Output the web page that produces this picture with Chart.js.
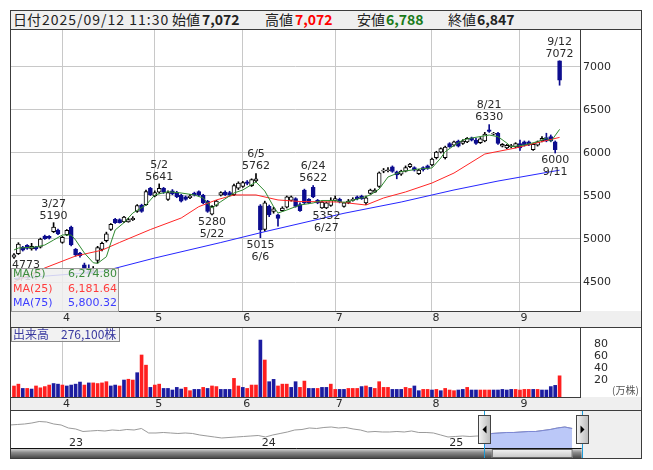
<!DOCTYPE html>
<html>
<head>
<meta charset="utf-8">
<script src="https://cdn.jsdelivr.net/npm/chart.js@4.4.1/dist/chart.umd.min.js"></script>
<style>
  body { margin:0; width:653px; height:470px; background:#fff; position:relative; overflow:hidden; }
  #frame { position:absolute; left:10px; top:10px; width:630px; height:447px; border:1px solid #3c3c3c; }
  #head { position:absolute; left:11px; top:11px; width:630px; height:18px; background:#efefef; border-bottom:1px solid #3c3c3c;
          font-family:"Noto Sans CJK JP",sans-serif; font-size:14px; color:#222; }
  #head span { position:absolute; top:-1px; line-height:19px; white-space:nowrap; }
  canvas { position:absolute; left:11px; }
</style>
</head>
<body>
<div id="frame"></div>
<div id="head"></div>
<canvas id="price" width="630" height="298" style="top:30px"></canvas>
<canvas id="vol" width="630" height="83" style="top:328px"></canvas>
<canvas id="nav" width="630" height="47" style="top:411px"></canvas>
<script>
// daily candles, 3/14 .. 9/12
const opens = [4790,4830,4905,4925,4885,4905,4905,5035,5030,5085, 5105,4960,5050,5140,4880,4835,4700,4620,4600,4750,
  4880,4980,5110,5230,5225,5200,5200,5225,5320,5395, 5400,5590,5500,5545,5590,5460,5560,5540,5510,5490,
  5480,5535,5550,5510,5440,5290,5390,5510,5545,5540, 5515,5590,5610,5665,5620,5675,5385,5110,5380,5320,
  5280,5330,5370,5450,5470,5400,5570,5460,5600,5450, 5360,5360,5390,5450,5460,5380,5420,5450,5490,5500,
  5420,5530,5545,5610,5790,5795,5840,5780,5755,5790, 5840,5830,5760,5830,5850,5860,5945,6010,5945,6110,
  6090,6140,6110,6130,6175,6150,6120,6140,6270,6220, 6230,6080,6060,6075,6070,6110,6130,6130,6040,6090,
  6140,6180,6190,6130,7072];
const highs = [4830,4957,4915,4935,4950,4915,5010,5045,5040,5190, 5115,5030,5110,5150,4890,4845,4720,4700,4680,4915,
  4965,5080,5180,5240,5235,5265,5240,5260,5400,5405, 5570,5600,5560,5641,5600,5560,5575,5555,5520,5500,
  5520,5545,5560,5520,5450,5390,5450,5550,5560,5555, 5640,5665,5670,5680,5700,5762,5400,5440,5395,5370,
  5290,5375,5500,5500,5480,5420,5580,5470,5622,5460, 5440,5430,5480,5500,5475,5430,5460,5480,5500,5510,
  5500,5580,5585,5780,5820,5830,5850,5790,5800,5850, 5880,5840,5810,5840,5860,5940,6020,6060,6080,6120,
  6140,6150,6155,6180,6185,6170,6180,6240,6330,6240, 6240,6110,6100,6100,6120,6150,6140,6140,6110,6140,
  6190,6230,6210,6140,7072];
const lows = [4773,4820,4860,4880,4870,4870,4895,4995,5000,5075, 5050,4950,5040,4920,4800,4790,4620,4560,4580,4720,
  4860,4965,5100,5180,5185,5190,5195,5215,5310,5310, 5390,5505,5490,5530,5530,5450,5515,5480,5430,5450,
  5470,5500,5500,5410,5310,5280,5380,5500,5505,5500, 5505,5575,5600,5630,5610,5665,5015,5090,5260,5300,
  5150,5320,5360,5440,5370,5320,5410,5410,5480,5410, 5355,5352,5380,5440,5420,5370,5410,5440,5455,5460,
  5400,5520,5540,5600,5770,5780,5775,5700,5740,5780, 5830,5790,5750,5790,5810,5850,5930,6000,5930,6065,
  6080,6070,6100,6120,6140,6100,6110,6130,6240,6210, 6100,6070,6050,6060,6060,6030,6080,6085,6030,6080,
  6130,6130,6130,6000,6788];
const closes = [4815,4940,4870,4890,4915,4885,5000,5005,5010,5140, 5060,5020,5100,4930,4815,4805,4650,4600,4630,4900,
  4950,5060,5170,5190,5190,5255,5225,5240,5390,5320, 5550,5515,5540,5590,5545,5540,5525,5490,5440,5460,
  5500,5510,5510,5420,5320,5380,5440,5540,5515,5510, 5620,5650,5655,5645,5690,5700,5105,5420,5280,5350,
  5240,5360,5490,5490,5380,5330,5420,5420,5490,5420, 5430,5420,5450,5470,5430,5420,5440,5460,5465,5470,
  5480,5570,5570,5770,5800,5805,5785,5745,5790,5830, 5870,5800,5800,5805,5820,5930,6010,6050,6070,6075,
  6130,6080,6140,6170,6150,6110,6165,6220,6250,6230, 6110,6100,6090,6085,6110,6060,6090,6095,6100,6130,
  6170,6140,6140,6040,6847];
// volume in 万株, r = red bar, b = blue bar
const volumes = [10.9,14,7,7,6,11,8,10,12.5,15, 14,12.5,11,12.5,14,17.4,12.5,16,16,15,
  16,18,11,12.5,11,20.7,22,20.7,32.7,61.6, 45,8.7,12.5,14,7,7,4.4,8.7,6,8.7,
  3.3,5.4,5.4,8.7,7,11,10,5.4,5.4,5.4, 23.4,11,8.7,7,12.5,12.5,86,53.4,18,21.8,
  11,14,14,8.7,18,8.7,19,7,7,7, 8.7,8.7,14,5.4,5.4,5.4,7,7,7,10,
  11,8.7,7,18,8.7,8.7,5.4,5.4,5.4,8.7, 7,11,3.3,5.4,5.4,4.4,5.4,3.3,7,4.4,
  3.3,4.4,5.4,8.7,4.4,4.4,4.4,4.4,4.4,4.4, 4.4,5.4,4.4,5.4,5.4,4.4,5.4,5.4,5.4,5.4,
  4.4,4.4,10,12,27.61];
const volDir = 'rrbrbrrrrb' + 'brbbbbrbrr' + 'rrbbrbrrbr' + 'rbrrbbbbbr' + 'rbbrbrrbbb' + 'rrbrrrbrbb' +
  'rrrbbrrbbr' + 'bbrrbbrrrb' + 'rbrrrrbbbr' + 'rbbrrbrbrr' + 'rbbrbbrrrb' + 'bbbbrrrrbr' + 'bbbbr';

// moving averages: [day index, value]
const ma5 = [[0,4872],[1,4895],[5,4907],[7,4930],[9,4988],[11,5047],[13,5047],[14,4988],[16,4837],[18,4724],
  [19,4717],[21,4794],[22,4953],[23,5105],[25,5190],[27,5302],[30,5395],[32,5512],[35,5550],[38,5535],
  [41,5512],[43,5477],[45,5360],[47,5434],[50,5535],[52,5570],[55,5663],[57,5558],[59,5376],[60,5302],
  [62,5337],[65,5395],[68,5419],[70,5448],[73,5448],[75,5424],[79,5477],[81,5512],[83,5581],[85,5721],
  [88,5783],[92,5814],[95,5826],[97,5942],[98,6015],[100,6087],[102,6151],[104,6174],[108,6209],[110,6190],
  [112,6116],[113,6073],[116,6093],[119,6132],[121,6174],[122,6132],[124,6274.80]];
const ma25 = [[0,4500],[7,4663],[14,4802],[20,4870],[24,4960],[31,5110],[38,5244],[42,5376],[46,5454],[50,5512],
  [55,5512],[60,5454],[65,5436],[74,5430],[80,5395],[84,5477],[89,5547],[95,5651],[100,5767],[107,5988],
  [114,6058],[124,6181.64]];
const ma75 = [[0,4540],[20,4620],[32,4779],[47,4959],[57,5085],[75,5299],[88,5430],[100,5570],[110,5674],[124,5800.32]];

const monthIdx = [11,32,52,73,95,115];
const monthLbl = ['4','5','6','7','8','9'];
const priceTicks = [4500,5000,5500,6000,6500,7000];
const volTicks = [20,40,60,80];

const noteIdx = [0,9,33,45,55,56,68,71,108,123,124];
const noteAt = ['lo','hi','hi','lo','hi','lo','hi','lo','hi','lo','hi'];
const noteDate = ['3/14','3/27','5/2','5/22','6/5','6/6','6/24','6/27','8/21','9/11','9/12'];

// long history for the navigator strip
const navVals = [7250,7350,7450,7650,7950,7850,7450,7250,6650,6450, 5950,6050,6150,6050,6250,6150,6350,6250,6550,5650,
  5650,5750,5650,5550,5650,5550,5250,5050,4850,4650, 4750,4850,4950,5050,5150,4850,5250,5550,5850,6250,
  6350,6650,6550,6750,6850,6650,6750,6450,6250,5850, 5950,5850,5850,5950,5850,6050,5750,5750,5650,5250,
  4850,4950,5050,4950,5050,4850,5550,5650,5750,5750, 5850,5950,5950,6150,6350,6650,6850,6550];
const navYearIdx = [7.8,34.2,59.9];
const navYearLbl = ['23','24','25'];
const navSel = [64.9,78.3];
const quoteTime = '2025/09/12 11:30';

const DOWN = '#0c0c8e';
const GRID = '#c8c8c8';
const EDGE = '#3c3c3c';
const TXT = '#2a2a2a';
const FONT = '"DejaVu Sans", sans-serif';
const n = opens.length;
const up = opens.map((o, i) => closes[i] >= o);
const fmt = v => v.toLocaleString('en-US');

// header line
(function(){
  const items = [
    [2,'日付',null],[31,quoteTime,'date'],
    [161,'始値',null],[191,fmt(opens[n-1]),'#222'],
    [254,'高値',null],[284,fmt(highs[n-1]),'#ff0000'],
    [346,'安値',null],[375,fmt(lows[n-1]),'#1a7a1a'],
    [437,'終値',null],[466,fmt(closes[n-1]),'#222']
  ];
  const head = document.getElementById('head');
  items.forEach(([x, t, c]) => {
    const s = document.createElement('span');
    s.style.left = x + 'px';
    s.textContent = t;
    if (c === 'date') s.style.letterSpacing = '1px';
    else if (c) { s.style.color = c; s.style.fontWeight = 'bold'; }
    head.appendChild(s);
  });
})();

function monthAxis(h){
  return {
    type:'linear', min:-0.68, max:128.64, offset:false,
    afterBuildTicks: s => { s.ticks = monthIdx.map(v => ({value:v})); },
    afterFit: s => { s.height = h; s.paddingLeft = 0; s.paddingRight = 0; },
    ticks:{ autoSkip:false, maxRotation:0, padding:1, labelOffset:4, color:TXT,
            font:{family:FONT, size:11}, callback:(v, i) => monthLbl[i] },
    grid:{ color:GRID, drawTicks:false, offset:false },
    border:{ color:EDGE }
  };
}

function rightAxis(min, max, ticks, pad, grid){
  return {
    position:'right', min:min, max:max,
    afterBuildTicks: s => { s.ticks = ticks.map(v => ({value:v})); },
    afterFit: s => { s.width = 61; s.paddingTop = 0; s.paddingBottom = 0; },
    ticks:{ padding:pad, color:TXT, font:{family:FONT, size:11}, callback:v => String(v) },
    grid: grid ? { color:GRID, drawTicks:false } : { display:false },
    border:{ color:EDGE }
  };
}

// price panel
const priceDeco = {
  id:'priceDeco',
  beforeDraw(c){
    const {ctx, chartArea:a, width, height} = c;
    ctx.save();
    ctx.fillStyle = '#fff'; ctx.fillRect(0, 0, width, height);
    ctx.fillStyle = '#efefef'; ctx.fillRect(0, a.bottom, width, height - a.bottom);
    ctx.restore();
  },
  afterDatasetsDraw(c){
    const {ctx, chartArea:a, scales:{x, y}} = c;
    ctx.save();
    ctx.font = '11px ' + FONT;
    ctx.fillStyle = TXT;
    ctx.textAlign = 'center';
    ctx.textBaseline = 'middle';
    noteIdx.forEach((i, k) => {
      const hi = noteAt[k] === 'hi';
      const val = String(hi ? highs[i] : lows[i]);
      const py = y.getPixelForValue(hi ? highs[i] : lows[i]);
      const w = Math.max(ctx.measureText(val).width, ctx.measureText(noteDate[k]).width);
      let px = x.getPixelForValue(i);
      px = Math.min(Math.max(px, a.left + w / 2 + 1), a.right - w / 2 - 1);
      if (hi) {
        ctx.fillText(noteDate[k], px, py - 19);
        ctx.fillText(val, px, py - 7);
      } else {
        ctx.fillText(val, px, py + 7);
        ctx.fillText(noteDate[k], px, py + 19);
      }
    });
    ctx.restore();
  },
  afterDraw(c){
    const {ctx, chartArea:a, width, height} = c;
    ctx.save();
    // MA legend box
    ctx.fillStyle = 'rgba(238,238,238,0.85)';
    ctx.fillRect(0, a.bottom - 43, 107, 43);
    ctx.strokeStyle = '#9a9a9a';
    ctx.strokeRect(0.5, a.bottom - 42.5, 107, 43);
    ctx.font = '11px ' + FONT;
    ctx.textBaseline = 'middle';
    const rows = [['MA(5)', ma5, '#3c8c3c'], ['MA(25)', ma25, '#ff3c3c'], ['MA(75)', ma75, '#3c3cff']];
    rows.forEach(([lbl, arr, col], k) => {
      const yy = a.bottom - 36.5 + k * 14.5;
      ctx.fillStyle = col;
      ctx.textAlign = 'left';
      ctx.fillText(lbl, 2, yy);
      ctx.textAlign = 'right';
      ctx.fillText(arr[arr.length - 1][1].toLocaleString('en-US', {minimumFractionDigits:2}), 106, yy);
    });
    ctx.strokeStyle = EDGE;
    ctx.beginPath(); ctx.moveTo(0, height - 0.5); ctx.lineTo(width, height - 0.5); ctx.stroke();
    ctx.restore();
  }
};

new Chart(document.getElementById('price'), {
  type:'bar',
  data:{ datasets:[
    { type:'line', data:ma5.map(p => ({x:p[0], y:p[1]})), borderColor:'#2f8a2f', borderWidth:1, pointRadius:0, tension:0, order:0 },
    { type:'line', data:ma25.map(p => ({x:p[0], y:p[1]})), borderColor:'#ff2626', borderWidth:1, pointRadius:0, tension:0, order:0 },
    { type:'line', data:ma75.map(p => ({x:p[0], y:p[1]})), borderColor:'#2626ff', borderWidth:1, pointRadius:0, tension:0, order:0 },
    { data:opens.map((o, i) => ({x:i, y:[o, closes[i]]})),
      backgroundColor:up.map(u => u ? '#fff' : DOWN), borderColor:up.map(u => u ? '#000' : DOWN),
      borderWidth:1, borderSkipped:false, barThickness:4, grouped:false, order:1 },
    { data:lows.map((l, i) => ({x:i, y:[l, highs[i]]})),
      backgroundColor:up.map(u => u ? '#000' : DOWN), borderWidth:0, barThickness:1, grouped:false, order:2 }
  ]},
  options:{
    responsive:false, animation:false, devicePixelRatio:1,
    layout:{ padding:0 },
    plugins:{ legend:{display:false}, tooltip:{enabled:false} },
    scales:{
      x: monthAxis(17),
      y: rightAxis(4162.8, 7430.2, priceTicks, 3, true)
    }
  },
  plugins:[priceDeco]
});

// volume panel
const volMin = -7;
const volDeco = {
  id:'volDeco',
  beforeDraw(c){
    const {ctx, chartArea:a, width, height} = c;
    ctx.save();
    ctx.fillStyle = '#fff'; ctx.fillRect(0, 0, width, height);
    ctx.fillStyle = '#efefef'; ctx.fillRect(0, a.bottom, width, height - a.bottom);
    ctx.restore();
  },
  afterDraw(c){
    const {ctx, chartArea:a, width, height} = c;
    ctx.save();
    ctx.fillStyle = 'rgba(240,240,240,0.85)';
    ctx.fillRect(0, 0, 108, 13);
    ctx.strokeStyle = '#8a8a8a';
    ctx.strokeRect(0.5, -0.5, 108, 14);
    ctx.font = '12px "Noto Sans CJK JP"';
    ctx.fillStyle = '#3a3aa0';
    ctx.textBaseline = 'middle';
    ctx.fillText('出来高　' + fmt(Math.round(volumes[n - 1] * 10000)) + '株', 2, 6.5);
    ctx.font = '10px "Noto Sans CJK JP"';
    ctx.fillStyle = '#555';
    ctx.fillText('(万株)', a.right + 32, 62);
    ctx.strokeStyle = EDGE;
    ctx.beginPath(); ctx.moveTo(0, height - 0.5); ctx.lineTo(width, height - 0.5); ctx.stroke();
    ctx.restore();
  }
};

new Chart(document.getElementById('vol'), {
  type:'bar',
  data:{ datasets:[{
    data:volumes.map((v, i) => ({x:i, y:v})),
    backgroundColor:volDir.split('').map(d => d === 'r' ? '#ff1f1f' : '#1c1ca0'),
    borderWidth:0, barThickness:3, grouped:false, base:volMin
  }]},
  options:{
    responsive:false, animation:false, devicePixelRatio:1,
    layout:{ padding:0 },
    plugins:{ legend:{display:false}, tooltip:{enabled:false} },
    scales:{
      x: monthAxis(14),
      y: rightAxis(volMin, 105.7, volTicks, 6, false)
    }
  },
  plugins:[volDeco]
});

// navigator strip
const navDeco = {
  id:'navDeco',
  beforeDraw(c){
    const {ctx, chartArea:a, width, height} = c;
    ctx.save();
    ctx.fillStyle = '#fff'; ctx.fillRect(0, 0, width, height);
    ctx.fillStyle = '#efefef'; ctx.fillRect(a.right, 0, width - a.right, height);
    ctx.restore();
  },
  afterDraw(c){
    const {ctx, chartArea:a, scales:{x}, height} = c;
    const l = x.getPixelForValue(navSel[0]), r = x.getPixelForValue(navSel[1]);
    ctx.save();
    // year labels
    ctx.font = '11px ' + FONT;
    ctx.fillStyle = TXT;
    ctx.textBaseline = 'middle';
    navYearIdx.forEach((v, k) => ctx.fillText(navYearLbl[k], x.getPixelForValue(v) + 2, 32));
    // scrollbar
    let g = ctx.createLinearGradient(0, a.bottom, 0, height);
    g.addColorStop(0, '#e4e4e4'); g.addColorStop(0.45, '#8c8c8c'); g.addColorStop(1, '#4a4a4a');
    ctx.fillStyle = g;
    ctx.fillRect(0, a.bottom, r, height - a.bottom);
    g = ctx.createLinearGradient(0, a.bottom, 0, height);
    g.addColorStop(0, '#fbfbfb'); g.addColorStop(1, '#c4c4c4');
    ctx.fillStyle = g;
    ctx.fillRect(l + 8, a.bottom + 1, r - l - 17, height - a.bottom - 1);
    ctx.strokeStyle = '#666';
    ctx.strokeRect(l + 8.5, a.bottom + 1.5, r - l - 18, height - a.bottom - 2);
    ctx.strokeStyle = '#111';
    ctx.beginPath(); ctx.moveTo(0, a.bottom + 0.5); ctx.lineTo(r, a.bottom + 0.5); ctx.stroke();
    // selection edges
    ctx.strokeStyle = '#1e9bd7';
    [l, r].forEach(p => { ctx.beginPath(); ctx.moveTo(Math.round(p) + 0.5, 0); ctx.lineTo(Math.round(p) + 0.5, height); ctx.stroke(); });
    // handles
    [l, r].forEach((p, k) => {
      const hx = Math.round(p) - 6;
      g = ctx.createLinearGradient(hx, 0, hx + 13, 0);
      g.addColorStop(0, '#f6f6f6'); g.addColorStop(1, '#b8b8b8');
      ctx.fillStyle = g;
      ctx.fillRect(hx, 4, 13, 29);
      ctx.strokeStyle = '#444';
      ctx.strokeRect(hx + 0.5, 4.5, 12, 28);
      ctx.fillStyle = '#000';
      ctx.beginPath();
      const cx = hx + 6.5;
      if (k === 0) { ctx.moveTo(cx - 2, 18.5); ctx.lineTo(cx + 2, 14.5); ctx.lineTo(cx + 2, 22.5); }
      else { ctx.moveTo(cx + 2, 18.5); ctx.lineTo(cx - 2, 14.5); ctx.lineTo(cx - 2, 22.5); }
      ctx.closePath(); ctx.fill();
    });
    ctx.restore();
  }
};

new Chart(document.getElementById('nav'), {
  type:'line',
  data:{ datasets:[
    { data:navVals.map((v, k) => ({x:k, y:v})).filter(p => p.x >= Math.ceil(navSel[0])),
      borderColor:'#7d88d6', borderWidth:1, backgroundColor:'rgba(150,170,245,0.65)', fill:'start', pointRadius:0, tension:0 },
    { data:navVals.map((v, k) => ({x:k, y:v})),
      borderColor:'#9a9a9a', borderWidth:1, pointRadius:0, tension:0 }
  ]},
  options:{
    responsive:false, animation:false, devicePixelRatio:1,
    layout:{ padding:{ left:0, right:61, top:0, bottom:10 } },
    plugins:{ legend:{display:false}, tooltip:{enabled:false} },
    scales:{
      x:{ type:'linear', display:false, min:0.14, max:78.08 },
      y:{ display:false, min:2647, max:10047 }
    }
  },
  plugins:[navDeco]
});
</script>
</body>
</html>
